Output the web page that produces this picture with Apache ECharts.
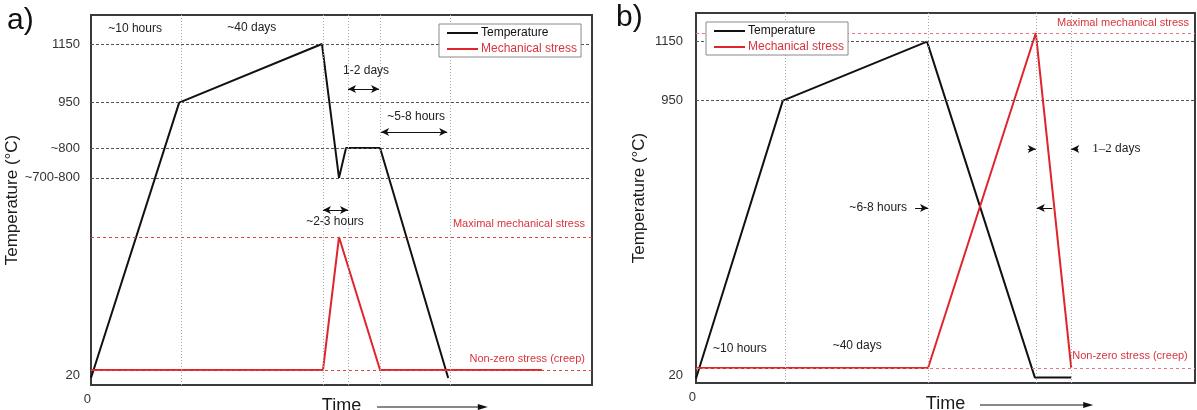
<!DOCTYPE html>
<html><head><meta charset="utf-8">
<script src="https://cdn.jsdelivr.net/npm/echarts@6/dist/echarts.min.js"></script>
<style>html,body{margin:0;padding:0;background:#fff}#c{width:1197px;height:410px}</style>
</head><body><div id="c"></div>
<script>
// ---------- Panel a ----------
const tempA_t = [0, 17.6, 46.1, 49.5, 50.9, 57.7, 71.3];
const tempA_v = [10, 950, 1150, 693, 795, 795, 10];
const stressA_t = [0, 46.3, 49.5, 57.7, 90.0];
const stressA_v = [37, 37, 491, 37, 37];
const yTicksA = [20, 693, 795, 950, 1150];
const yLabelsA = ['20', '~700-800', '~800', '950', '1150'];
const hDashA = [693, 795, 950, 1150];
const vDotA = [18, 46.3, 51.3, 57.7, 71.7];
const maxStressA = 491, creepA = 37;
const notesA = [['~10 hours', 8.8, 1201], ['~40 days', 32.1, 1205], ['1-2 days', 54.9, 1058], ['~5-8 hours', 64.9, 901], ['~2-3 hours', 48.7, 542]];
const redNotesA = [['Maximal mechanical stress', 98.6, 536, 'right'], ['Non-zero stress (creep)', 98.6, 75, 'right']];
const arrowsA = [[51.3, 57.5, 996, 'both'], [57.9, 71.1, 850, 'both'], [46.3, 51.3, 583, 'both']];
const timeArrowA = [57.1, 79.2];

// ---------- Panel b ----------
const tempB_t = [0, 17.4, 46.3, 67.9, 75.2];
const tempB_v = [8, 950, 1150, 12, 12];
const stressB_t = [0, 46.5, 68.1, 75.2];
const stressB_v = [44, 44, 1179, 44];
const yTicksB = [20, 950, 1150];
const yLabelsB = ['20', '950', '1150'];
const hDashB = [950, 1150];
const vDotB = [17.8, 46.5, 68.1, 75.2];
const maxStressB = 1179, creepB = 44;
const notesB = [['~10 hours', 8.8, 108], ['~40 days', 32.3, 118]];
const rightNotesB = [['~6-8 hours', 42.3, 586]];
const redNotesB = [['Maximal mechanical stress', 98.8, 1213, 'right'], ['Non-zero stress (creep)', 75.4, 84, 'left']];
const arrowsB = [[66.5, 68.1, 786, 'end'], [76.6, 75.2, 786, 'end'], [43.9, 46.5, 586, 'end'], [71.4, 68.3, 586, 'end']];
const daysNoteB = ['1–2', ' days', 79.4, 786];
const timeArrowB = [56.9, 79.6];

const FONT = 'Liberation Sans, Arial, sans-serif';
const RED = '#e0242b', RED_TXT = '#d8343c', BLACK = '#111';

const zip = (a, b) => a.map((v, i) => [v, b[i]]);

function refLines(hDash, vDot, maxS, creep, arrows, redDash) {
  const d = [];
  hDash.forEach(v => d.push({ yAxis: v, lineStyle: { color: '#555', type: [3, 2], width: 1 } }));
  vDot.forEach(v => d.push({ xAxis: v, lineStyle: { color: '#aaa', type: [1, 2], width: 1 } }));
  d.push({ yAxis: maxS, lineStyle: { color: redDash, type: [3, 3], width: 1 } });
  d.push({ yAxis: creep, lineStyle: { color: redDash, type: [3, 3], width: 1 } });
  arrows.forEach(a => d.push([
    { coord: [a[0], a[2]], symbol: a[3] === 'both' ? 'arrow' : 'none' },
    { coord: [a[1], a[2]], symbol: 'arrow' }
  ]));
  return {
    silent: true, symbol: ['none', 'none'], symbolSize: [6, 8], label: { show: false },
    lineStyle: { color: '#111', type: 'solid', width: 1 }, data: d
  };
}

function yAxisCfg(idx, min, max, ticks, labels, gap, margin) {
  return {
    type: 'value', gridIndex: idx, min: min, max: max,
    name: 'Temperature (°C)', nameLocation: 'middle', nameGap: gap,
    nameTextStyle: { fontSize: 17, color: '#1a1a1a', fontFamily: FONT },
    axisLine: { show: false }, axisTick: { show: false }, splitLine: { show: false },
    axisLabel: {
      customValues: ticks, margin: margin, fontSize: 13, color: '#333', fontFamily: FONT,
      formatter: v => { const i = ticks.indexOf(v); return i >= 0 ? labels[i] : ''; }
    }
  };
}
function xAxisCfg(idx) {
  return {
    type: 'value', gridIndex: idx, min: 0, max: 100,
    axisLine: { show: false }, axisTick: { show: false }, splitLine: { show: false },
    axisLabel: { customValues: [0], formatter: () => '0', margin: 8, fontSize: 13, color: '#333', align: 'right', fontFamily: FONT }
  };
}
function legendCfg(left, top) {
  return {
    left: left, top: top, z: 30, orient: 'vertical', backgroundColor: '#fff', borderColor: '#8a8a8a', borderWidth: 1,
    padding: [3, 4, 2, 8], itemGap: 4, itemWidth: 31, itemHeight: 2, icon: 'rect', selectedMode: false,
    textStyle: { fontSize: 12, fontFamily: FONT, padding: [0, 0, 0, -2] },
    data: [{ name: 'Temperature', textStyle: { color: BLACK } }, { name: 'Mechanical stress', textStyle: { color: RED_TXT } }]
  };
}

const chart = echarts.init(document.getElementById('c'), null, { renderer: 'canvas' });
chart.setOption({
  animation: false,
  backgroundColor: '#fff',
  textStyle: { fontFamily: FONT },
  grid: [
    { left: 91, top: 15, width: 501, height: 370, show: true, borderColor: '#3a3a3a', borderWidth: 2, backgroundColor: 'transparent', containLabel: false, outerBoundsMode: 'none' },
    { left: 696, top: 13, width: 499, height: 370, show: true, borderColor: '#3a3a3a', borderWidth: 2, backgroundColor: 'transparent', containLabel: false, outerBoundsMode: 'none' }
  ],
  xAxis: [xAxisCfg(0), xAxisCfg(1)],
  yAxis: [yAxisCfg(0, -14, 1249, yTicksA, yLabelsA, 62, 11), yAxisCfg(1, -7, 1247, yTicksB, yLabelsB, 48, 13)],
  legend: [legendCfg(439, 24), legendCfg(706, 22)],
  series: [
    { name: 'refA', type: 'line', xAxisIndex: 0, yAxisIndex: 0, data: [], z: 1, markLine: refLines(hDashA, vDotA, maxStressA, creepA, arrowsA, '#d9474d') },
    { name: 'refB', type: 'line', xAxisIndex: 1, yAxisIndex: 1, data: [], z: 1, markLine: refLines(hDashB, vDotB, maxStressB, creepB, arrowsB, '#e07a80') },
    { name: 'Temperature', type: 'line', xAxisIndex: 0, yAxisIndex: 0, data: zip(tempA_t, tempA_v), symbol: 'none', z: 3, lineStyle: { color: BLACK, width: 2 }, itemStyle: { color: BLACK } },
    { name: 'Mechanical stress', type: 'line', xAxisIndex: 0, yAxisIndex: 0, data: zip(stressA_t, stressA_v), symbol: 'none', z: 3, lineStyle: { color: RED, width: 2 }, itemStyle: { color: RED } },
    { name: 'Temperature', type: 'line', xAxisIndex: 1, yAxisIndex: 1, data: zip(tempB_t, tempB_v), symbol: 'none', z: 3, lineStyle: { color: BLACK, width: 2 }, itemStyle: { color: BLACK } },
    { name: 'Mechanical stress', type: 'line', xAxisIndex: 1, yAxisIndex: 1, data: zip(stressB_t, stressB_v), symbol: 'none', z: 3, lineStyle: { color: RED, width: 2 }, itemStyle: { color: RED } }
  ]
});

function px(g, x, y) { return chart.convertToPixel({ xAxisIndex: g, yAxisIndex: g }, [x, y]); }
function txt(g, t, x, y, align, color, size) {
  const p = px(g, x, y);
  return { type: 'text', x: p[0], y: p[1], z: 10, silent: true,
    style: { text: t, fill: color, fontSize: size, fontFamily: FONT, align: align, verticalAlign: 'middle' } };
}
function timeArrow(g, xs) {
  const x0 = chart.convertToPixel({ xAxisIndex: g }, 50);
  const x1 = chart.convertToPixel({ xAxisIndex: g }, xs[0]);
  const x2 = chart.convertToPixel({ xAxisIndex: g }, xs[1]);
  const yb = chart.convertToPixel({ yAxisIndex: g }, g === 0 ? -14 : -7) + 22;
  return [
    { type: 'text', silent: true, x: x0, y: yb - 1, style: { text: 'Time', fontSize: 18, fontFamily: FONT, fill: '#1a1a1a', align: 'center', verticalAlign: 'middle' } },
    { type: 'line', silent: true, shape: { x1: x1, y1: yb, x2: x2 - 6, y2: yb }, style: { stroke: '#111', lineWidth: 1 } },
    { type: 'polygon', silent: true, shape: { points: [[x2, yb], [x2 - 10, yb - 3], [x2 - 10, yb + 3]] }, style: { fill: '#111' } }
  ];
}

const g = [];
g.push({ type: 'text', x: 7, y: 21, style: { text: 'a)', fontSize: 30, fontFamily: FONT, fill: '#111', verticalAlign: 'middle' } });
g.push({ type: 'text', x: 616, y: 18, style: { text: 'b)', fontSize: 30, fontFamily: FONT, fill: '#111', verticalAlign: 'middle' } });
notesA.forEach(n => g.push(txt(0, n[0], n[1], n[2], 'center', '#222', 12)));
redNotesA.forEach(n => g.push(txt(0, n[0], n[1], n[2], n[3], RED_TXT, 11)));
notesB.forEach(n => g.push(txt(1, n[0], n[1], n[2], 'center', '#222', 12)));
rightNotesB.forEach(n => g.push(txt(1, n[0], n[1], n[2], 'right', '#222', 12)));
redNotesB.forEach(n => g.push(txt(1, n[0], n[1], n[2], n[3], RED_TXT, 11)));
(function () {
  const p = px(1, daysNoteB[2], daysNoteB[3]);
  g.push({ type: 'text', x: p[0], y: p[1], silent: true,
    style: { text: '{s|' + daysNoteB[0] + '}' + daysNoteB[1], fill: '#222', fontSize: 12, fontFamily: FONT, align: 'left', verticalAlign: 'middle',
      rich: { s: { fontFamily: 'Liberation Serif, serif', fontSize: 13, fill: '#222' } } } });
})();
timeArrow(0, timeArrowA).forEach(e => g.push(e));
timeArrow(1, timeArrowB).forEach(e => g.push(e));
chart.setOption({ graphic: g });
</script></body></html>
